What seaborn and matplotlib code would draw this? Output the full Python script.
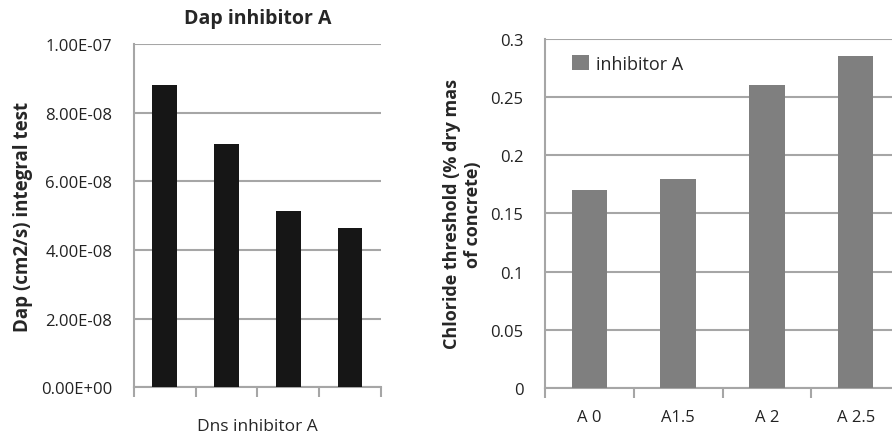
import numpy as np
import pandas as pd
import seaborn as sns
import matplotlib.pyplot as plt
from matplotlib.ticker import FixedLocator

# datos
dns_groups = ['1', '2', '3', '4']
dap_values = [8.8e-8, 7.1e-8, 5.13e-8, 4.64e-8]

dosage_labels = ['A 0', 'A1.5', 'A 2', 'A 2.5']
threshold_values = [0.17, 0.18, 0.26, 0.285]

sns.set_style('white')
plt.rcParams['font.family'] = ['Open Sans', 'DejaVu Sans']

grid_col = '#a6a6a6'

fig = plt.figure(figsize=(8.92, 4.39), dpi=100)
ax1 = fig.add_axes([0.150, 0.116, 0.277, 0.781])
ax2 = fig.add_axes([0.611, 0.114, 0.398, 0.795])

# 1. Dap inhibitor A
df1 = pd.DataFrame({'grupo': dns_groups, 'dap': dap_values})
sns.barplot(data=df1, x='grupo', y='dap', color='#161616', width=0.4,
            saturation=1, linewidth=0, ax=ax1, zorder=3)
ax1.set_ylim(0, 1e-7)
ax1.set_xlim(-0.5, 3.5)
ax1.set_yticks(np.arange(0, 1.01e-7, 2e-8))
ax1.set_yticklabels(['%.2E' % v for v in np.arange(0, 1.01e-7, 2e-8)])
ax1.set_xticks([])
ax1.xaxis.set_minor_locator(FixedLocator([-0.5, 0.5, 1.5, 2.5, 3.5]))
ax1.set_title('Dap inhibitor A', fontsize=14, fontweight='bold', pad=15)
ax1.set_ylabel('Dap (cm2/s) integral test', fontsize=13.5, fontweight='bold', labelpad=6)
ax1.set_xlabel('Dns inhibitor A', fontsize=12.5, labelpad=12)

# 2. Umbral de cloruros
df2 = pd.DataFrame({'dosis': dosage_labels, 'umbral': threshold_values})
sns.barplot(data=df2, x='dosis', y='umbral', color='#7f7f7f', width=0.4,
            saturation=1, linewidth=0, ax=ax2, zorder=3, label='inhibitor A')
ax2.set_ylim(0, 0.3)
ax2.set_xlim(-0.5, 3.5)
ax2.set_yticks(np.arange(0, 0.301, 0.05))
ax2.set_yticklabels(['0', '0.05', '0.1', '0.15', '0.2', '0.25', '0.3'])
ax2.xaxis.set_minor_locator(FixedLocator([-0.5, 0.5, 1.5, 2.5, 3.5]))
ax2.set_ylabel('Chloride threshold (% dry mas\nof concrete)', fontsize=13,
               fontweight='bold', labelpad=6)
ax2.set_xlabel('')
ax2.legend(loc='upper left', bbox_to_anchor=(0.076, 0.955), frameon=False,
           borderaxespad=0, borderpad=0, fontsize=13,
           handlelength=0.95, handleheight=0.95, handletextpad=0.4)

for ax in (ax1, ax2):
    ax.grid(axis='y', color=grid_col, linewidth=1.5, zorder=0)
    ax.set_axisbelow(True)
    for s in ('top', 'right'):
        ax.spines[s].set_visible(False)
    for s in ('left', 'bottom'):
        ax.spines[s].set_color(grid_col)
        ax.spines[s].set_linewidth(1.5)
    ax.tick_params(axis='y', which='major', direction='out', length=7, width=1.5,
                   color=grid_col, labelsize=12, labelcolor='#222222', pad=8.5)
    ax.tick_params(axis='x', which='major', length=0, labelsize=12,
                   labelcolor='#222222', pad=15)
    ax.tick_params(axis='x', which='minor', direction='out', length=7, width=1.5,
                   color=grid_col, bottom=True)

fig.savefig('out.png', dpi=100)
plt.close()
